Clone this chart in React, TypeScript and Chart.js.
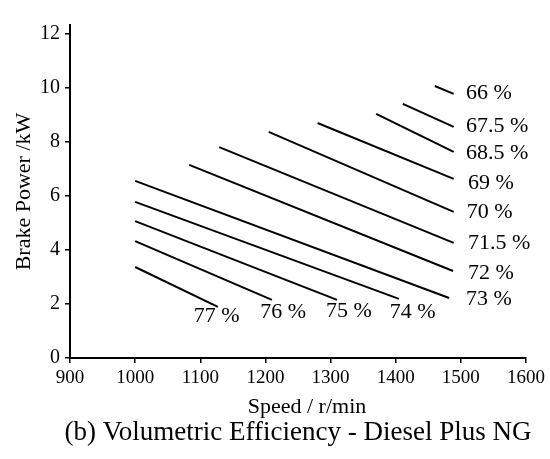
import React, { useEffect, useRef } from "react";
import { Chart, registerables } from "chart.js";

Chart.register(...registerables);

// Iso-efficiency lines (volumetric efficiency, %)
const efficiencyLabels = ["77 %", "76 %", "75 %", "74 %", "73 %", "72 %", "71.5 %", "70 %", "69 %", "68.5 %", "67.5 %", "66 %"];
const lineStartSpeed = [1000, 1000, 1000, 1000, 1000, 1083, 1129, 1205, 1280, 1370, 1411, 1460];
const lineStartPower = [3.37, 4.33, 5.07, 5.78, 6.56, 7.15, 7.81, 8.37, 8.7, 9.04, 9.41, 10.07];
const lineEndSpeed = [1127, 1210, 1310, 1405, 1482, 1488, 1489, 1489, 1489, 1489, 1489, 1489];
const lineEndPower = [1.89, 2.15, 2.15, 2.19, 2.22, 3.22, 4.26, 5.41, 6.63, 7.63, 8.56, 9.78];
// label anchor (left edge, vertical middle) in data units
const labelSpeed = [1090, 1192, 1293, 1391, 1508, 1511, 1511, 1509, 1511, 1508, 1508, 1508];
const labelPower = [1.55, 1.7, 1.74, 1.7, 2.19, 3.15, 4.26, 5.41, 6.48, 7.59, 8.59, 9.81];

const xTicks = [900, 1000, 1100, 1200, 1300, 1400, 1500, 1600];
const yTicks = [0, 2, 4, 6, 8, 10, 12];

const xTitle = "Speed / r/min";
const yTitle = "Brake Power /kW";
const caption = "(b) Volumetric Efficiency - Diesel Plus NG";

const SERIF = "'Liberation Serif', 'Times New Roman', serif";

const labelPlugin = {
  id: "isoLabels",
  afterDatasetsDraw(chart: any) {
    const { ctx, scales } = chart;
    ctx.save();
    ctx.fillStyle = "#000";
    ctx.font = `22px ${SERIF}`;
    ctx.textAlign = "left";
    ctx.textBaseline = "middle";
    efficiencyLabels.forEach((t, i) => {
      ctx.fillText(t, scales.x.getPixelForValue(labelSpeed[i]), scales.y.getPixelForValue(labelPower[i]));
    });
    ctx.restore();
  },
  afterDraw(chart: any) {
    const { ctx, chartArea } = chart;
    const cx = (chartArea.left + chartArea.right) / 2;
    ctx.save();
    ctx.fillStyle = "#000";
    ctx.textAlign = "center";
    ctx.textBaseline = "alphabetic";
    ctx.font = `22px ${SERIF}`;
    ctx.fillText(xTitle, cx + 9, chartArea.bottom + 55);
    ctx.font = `27px ${SERIF}`;
    ctx.fillText(caption, cx, chartArea.bottom + 82);
    ctx.restore();
  },
};

export default function App() {
  const ref = useRef<HTMLCanvasElement | null>(null);
  useEffect(() => {
    if (!ref.current) return;
    const datasets = efficiencyLabels.map((lab, i) => ({
      label: lab,
      data: [
        { x: lineStartSpeed[i], y: lineStartPower[i] },
        { x: lineEndSpeed[i], y: lineEndPower[i] },
      ],
      borderColor: "#000",
      borderWidth: 2,
      pointRadius: 0,
      fill: false,
      tension: 0,
    }));
    const chart = new Chart(ref.current, {
      type: "line",
      data: { datasets },
      plugins: [labelPlugin],
      options: {
        animation: false,
        responsive: false,
        maintainAspectRatio: false,
        layout: { padding: { top: 25, right: 24, left: 0, bottom: 0 } },
        plugins: { legend: { display: false }, tooltip: { enabled: false }, title: { display: false } },
        scales: {
          x: {
            type: "linear",
            min: xTicks[0],
            max: xTicks[xTicks.length - 1],
            afterFit: (s: any) => { s.height = 101; },
            afterBuildTicks: (s: any) => { s.ticks = xTicks.map((v) => ({ value: v })); },
            ticks: { color: "#000", font: { family: SERIF, size: 19 }, padding: 4, maxRotation: 0, callback: (v: any) => String(v) },
            grid: { drawOnChartArea: false, drawTicks: true, tickLength: 5, color: "#000", lineWidth: 1.5 },
            border: { display: true, color: "#000", width: 2 },
            title: { display: false },
          },
          y: {
            type: "linear",
            min: 0,
            max: 12.33,
            afterFit: (s: any) => { s.width = 70; },
            afterBuildTicks: (s: any) => { s.ticks = yTicks.map((v) => ({ value: v })); },
            ticks: { color: "#000", font: { family: SERIF, size: 20 }, padding: 5, callback: (v: any) => String(v) },
            grid: { drawOnChartArea: false, drawTicks: true, tickLength: 5, color: "#000", lineWidth: 1.5 },
            border: { display: true, color: "#000", width: 2 },
            title: { display: true, text: yTitle, color: "#000", font: { family: SERIF, size: 22 }, padding: { top: 11, bottom: 0 } },
          },
        },
      },
    });
    return () => chart.destroy();
  }, []);
  return (
    <div style={{ position: "fixed", left: 0, top: 0, width: 550, height: 459, background: "#fff" }}>
      <canvas ref={ref} width={550} height={459} style={{ width: 550, height: 459, display: "block" }} />
    </div>
  );
}
